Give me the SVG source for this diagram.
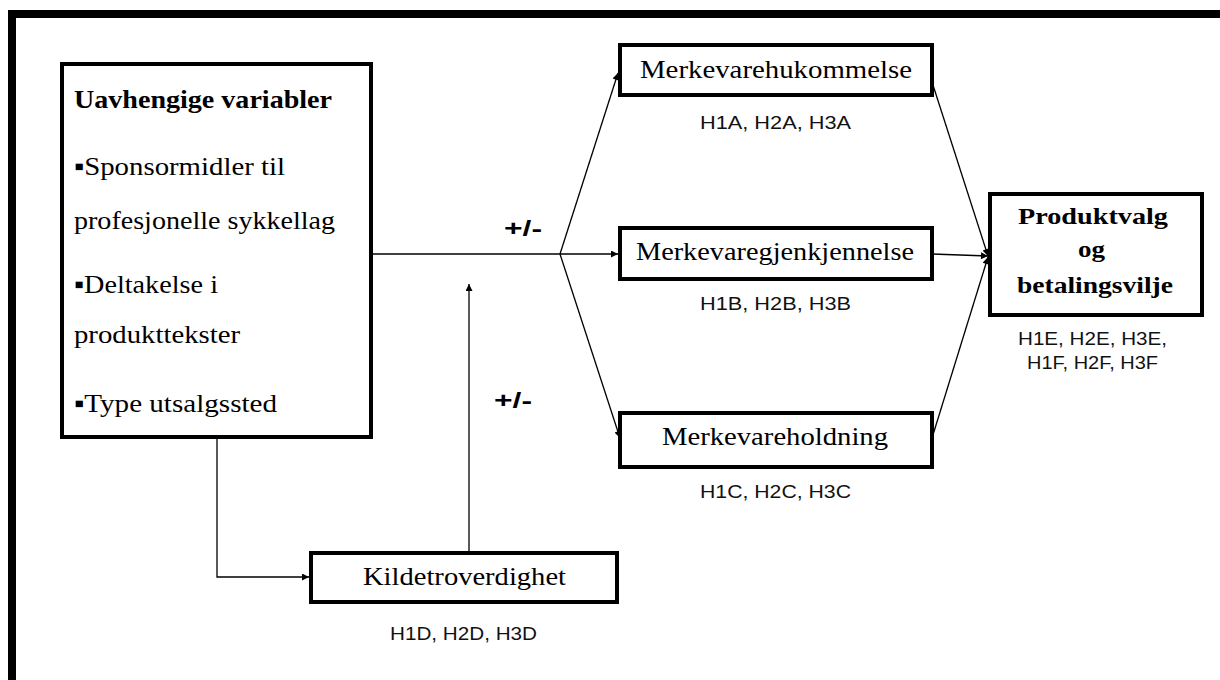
<svg xmlns="http://www.w3.org/2000/svg" width="1220" height="680" viewBox="0 0 1220 680">
  <style>
    .box { fill: #fff; stroke: #000; stroke-width: 4; }
    .serif { font-family: "Liberation Serif", "Times New Roman", serif; fill: #000; }
    .node { font-size: 26px; }
    .bold { font-weight: bold; }
    .hyp { font-family: "Liberation Sans", Arial, sans-serif; font-size: 18px; fill: #111; }
    .sign { font-family: "Liberation Sans", Arial, sans-serif; font-size: 22px; font-weight: bold; fill: #000; }
    .wire { fill: none; stroke: #000; stroke-width: 1.3; }
  </style>
  <defs>
    <marker id="arrow" viewBox="0 0 10 10" refX="10" refY="5" markerWidth="9" markerHeight="7" markerUnits="userSpaceOnUse" orient="auto">
      <path d="M0,0 L10,5 L0,10 z" fill="#000"/>
    </marker>
  </defs>

  <rect width="1220" height="680" fill="#fff"/>
  <!-- frame -->
  <rect x="12" y="14" width="1240" height="700" fill="none" stroke="#000" stroke-width="8"/>

  <g id="connectors">
    <line class="wire" x1="373" y1="254" x2="560" y2="254"/>
    <line class="wire" x1="560" y1="254" x2="618" y2="73" marker-end="url(#arrow)"/>
    <line class="wire" x1="560" y1="254" x2="618" y2="254" marker-end="url(#arrow)"/>
    <line class="wire" x1="560" y1="254" x2="620" y2="438" marker-end="url(#arrow)"/>
    <line class="wire" x1="932" y1="82" x2="988" y2="256" marker-end="url(#arrow)"/>
    <line class="wire" x1="932" y1="254" x2="988" y2="256" marker-end="url(#arrow)"/>
    <line class="wire" x1="932" y1="438" x2="988" y2="257" marker-end="url(#arrow)"/>
    <polyline class="wire" points="217,437 217,577 309,577" marker-end="url(#arrow)"/>
    <line class="wire" x1="469" y1="553" x2="469" y2="284" marker-end="url(#arrow)"/>
  </g>

  <g id="uavhengige">
    <rect class="box" x="62" y="64" width="309" height="373"/>
    <text class="serif node bold" x="74" y="108" textLength="258" lengthAdjust="spacingAndGlyphs">Uavhengige variabler</text>
    <text class="serif node" x="74" y="175" textLength="211" lengthAdjust="spacingAndGlyphs">▪Sponsormidler til</text>
    <text class="serif node" x="74" y="229" textLength="261" lengthAdjust="spacingAndGlyphs">profesjonelle sykkellag</text>
    <text class="serif node" x="74" y="293" textLength="144" lengthAdjust="spacingAndGlyphs">▪Deltakelse i</text>
    <text class="serif node" x="74" y="343" textLength="166" lengthAdjust="spacingAndGlyphs">produkttekster</text>
    <text class="serif node" x="74" y="412" textLength="203" lengthAdjust="spacingAndGlyphs">▪Type utsalgssted</text>
  </g>

  <g id="merkevarehukommelse">
    <rect class="box" x="620" y="45" width="312" height="50"/>
    <text class="serif node" x="640" y="78" textLength="272" lengthAdjust="spacingAndGlyphs">Merkevarehukommelse</text>
    <text class="hyp" x="700" y="129" textLength="151" lengthAdjust="spacingAndGlyphs">H1A, H2A, H3A</text>
  </g>

  <g id="merkevaregjenkjennelse">
    <rect class="box" x="620" y="228" width="312" height="51"/>
    <text class="serif node" x="636" y="260" textLength="278" lengthAdjust="spacingAndGlyphs">Merkevaregjenkjennelse</text>
    <text class="hyp" x="700" y="310" textLength="151" lengthAdjust="spacingAndGlyphs">H1B, H2B, H3B</text>
  </g>

  <g id="merkevareholdning">
    <rect class="box" x="620" y="413" width="312" height="54"/>
    <text class="serif node" x="662" y="445" textLength="226" lengthAdjust="spacingAndGlyphs">Merkevareholdning</text>
    <text class="hyp" x="700" y="498" textLength="151" lengthAdjust="spacingAndGlyphs">H1C, H2C, H3C</text>
  </g>

  <g id="produktvalg">
    <rect class="box" x="990" y="194" width="212" height="121"/>
    <text class="serif bold" font-size="23" x="1018" y="224" textLength="150" lengthAdjust="spacingAndGlyphs">Produktvalg</text>
    <text class="serif bold" font-size="23" x="1078" y="257" textLength="27" lengthAdjust="spacingAndGlyphs">og</text>
    <text class="serif bold" font-size="23" x="1017" y="293" textLength="156" lengthAdjust="spacingAndGlyphs">betalingsvilje</text>
    <text class="hyp" x="1018" y="345" textLength="149" lengthAdjust="spacingAndGlyphs">H1E, H2E, H3E,</text>
    <text class="hyp" x="1027" y="369" textLength="131" lengthAdjust="spacingAndGlyphs">H1F, H2F, H3F</text>
  </g>

  <g id="kildetroverdighet">
    <rect class="box" x="311" y="553" width="306" height="49"/>
    <text class="serif node" x="363" y="585" textLength="203" lengthAdjust="spacingAndGlyphs">Kildetroverdighet</text>
    <text class="hyp" x="390" y="640" textLength="147" lengthAdjust="spacingAndGlyphs">H1D, H2D, H3D</text>
  </g>

  <g id="signs">
    <text class="sign" x="504" y="236" textLength="38" lengthAdjust="spacingAndGlyphs">+/-</text>
    <text class="sign" x="494" y="408" textLength="38" lengthAdjust="spacingAndGlyphs">+/-</text>
  </g>
</svg>
